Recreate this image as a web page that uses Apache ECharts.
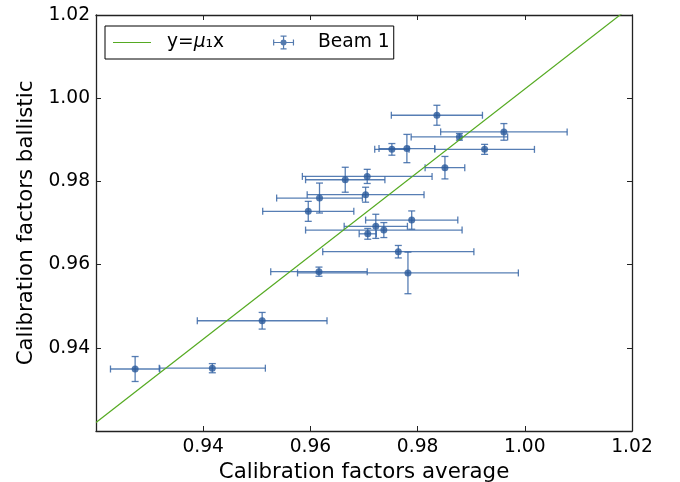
<!DOCTYPE html>
<html>
<head>
<meta charset="utf-8">
<script src="https://cdn.jsdelivr.net/npm/echarts@6/dist/echarts.min.js"></script>
<style>
html,body{margin:0;padding:0;background:#fff;}
#chart{width:680px;height:482px;}
</style>
</head>
<body>
<div id="chart"></div>
<script>
// ---- data ----
var calibAverage = [0.9836, 0.9961, 0.9878, 0.9752, 0.9780, 0.9925, 0.9851, 0.9665, 0.9706, 0.9703, 0.9617,
                    0.9596, 0.9789, 0.9722, 0.9737, 0.9707, 0.9764, 0.9782, 0.9616, 0.9510, 0.9273, 0.9417];
var calibBallistic = [0.9959, 0.9919, 0.9907, 0.9877, 0.9879, 0.9877, 0.9833, 0.9804, 0.9812, 0.9768, 0.9760,
                      0.9728, 0.9707, 0.9692, 0.9683, 0.9674, 0.9631, 0.9580, 0.9583, 0.9465, 0.9349, 0.9351];
var errAverage = [0.0085, 0.0118, 0.0090, 0.0032, 0.0052, 0.0093, 0.0037, 0.0074, 0.0121, 0.0109, 0.0080,
                  0.0085, 0.0086, 0.0059, 0.0146, 0.0016, 0.0141, 0.0206, 0.0090, 0.0121, 0.0046, 0.0099];
var errBallistic = [0.0024, 0.0020, 0.0008, 0.0014, 0.0034, 0.0012, 0.0027, 0.0030, 0.0017, 0.0018, 0.0036,
                    0.0024, 0.0022, 0.0029, 0.0018, 0.0013, 0.0015, 0.0050, 0.0011, 0.0020, 0.0030, 0.0011];
var mu1 = 1.0022;            // slope of the fitted line y = mu1 * x
var axisMin = 0.92, axisMax = 1.02, axisStep = 0.02;
var tickLabels = ['0.94', '0.96', '0.98', '1.00', '1.02'];
var lineName = 'y=\u03bc\u2081x';
var beamName = 'Beam 1';

// ---- build ----
var pts = calibAverage.map(function (x, i) { return [x, calibBallistic[i]]; });
var errData = calibAverage.map(function (x, i) { return [x, calibBallistic[i], errAverage[i], errBallistic[i]]; });
var lineData = [[axisMin, mu1 * axisMin], [axisMax, mu1 * axisMax]];

var FONT = 'DejaVu Sans';
var errColor = '#3a67a7';
var dotColor = '#2b5a9b';
var lineColor = '#55aa22';

function fmt(v) {
  var s = v.toFixed(2);
  return tickLabels.indexOf(s) >= 0 ? s : '';
}

function axisCommon(extra) {
  var o = {
    type: 'value', min: axisMin, max: axisMax, interval: axisStep,
    axisLine: { show: true, onZero: false, lineStyle: { color: '#222', width: 1.3 } },
    axisTick: { show: true, inside: true, length: 5, lineStyle: { color: '#222', width: 1 } },
    splitLine: { show: false },
    axisLabel: { show: false }
  };
  for (var k in extra) o[k] = extra[k];
  return o;
}

var lineIcon = 'path://M0,6.4 H38 V7.6 H0 Z';
var ebIcon = 'path://M0,6.9 L0.01,6.9 L0.01,6.91 Z M38,6.9 L38,6.91 L37.99,6.91 Z ' +
  'M9,6.4 H30 V7.6 H9 Z M9,4 H10.2 V10 H9 Z M28.8,4 H30 V10 H28.8 Z ' +
  'M18.9,0 H20.1 V14 H18.9 Z M16.5,0 H22.5 V1.2 H16.5 Z M16.5,12.8 H22.5 V14 H16.5 Z ' +
  'M16.5,7 A3,3 0 1,1 22.5,7 A3,3 0 1,1 16.5,7 Z';

var chart = echarts.init(document.getElementById('chart'), null, { renderer: 'canvas' });
chart.setOption({
  backgroundColor: '#fff',
  animation: false,
  textStyle: { fontFamily: FONT },
  grid: { left: 96, right: 48, top: 15, bottom: 51, containLabel: false, outerBoundsMode: 'none' },
  legend: {
    left: 105, top: 26,
    padding: [7, 4, 7, 8],
    borderColor: '#000', borderWidth: 1, borderRadius: 0,
    itemWidth: 38, itemHeight: 14, itemGap: 40,
    selectedMode: false,
    textStyle: {
      fontFamily: FONT, fontSize: 18.67, color: '#000', padding: [0, 0, 0, 11],
      rich: {
        n: { fontFamily: FONT, fontSize: 18.67, color: '#000' },
        i: { fontFamily: FONT, fontSize: 18.67, color: '#000', fontStyle: 'italic' }
      }
    },
    formatter: function (name) {
      if (name === lineName) return '{n|y=}{i|\u03bc}{n|\u2081x}';
      return name;
    },
    data: [
      { name: lineName, icon: lineIcon, itemStyle: { color: lineColor, borderWidth: 0 } },
      { name: beamName, icon: ebIcon }
    ]
  },
  xAxis: [
    axisCommon({
      position: 'bottom',
      name: 'Calibration factors average', nameLocation: 'middle', nameGap: 27,
      nameTextStyle: { fontFamily: FONT, fontSize: 21.33, color: '#000' },
      axisLabel: { show: true, margin: 7, fontFamily: FONT, fontSize: 18.67, color: '#000', formatter: fmt }
    }),
    axisCommon({ position: 'top' })
  ],
  yAxis: [
    axisCommon({
      position: 'left',
      name: 'Calibration factors ballistic', nameLocation: 'middle', nameGap: 59,
      nameTextStyle: { fontFamily: FONT, fontSize: 21.33, color: '#000' },
      axisLabel: { show: true, margin: 6, fontFamily: FONT, fontSize: 18.67, color: '#000', formatter: fmt }
    }),
    axisCommon({ position: 'right' })
  ],
  series: [
    {
      name: beamName, type: 'scatter', xAxisIndex: 0, yAxisIndex: 0,
      data: pts, symbol: 'circle', symbolSize: 7, z: 4,
      itemStyle: { color: dotColor }, emphasis: { disabled: true }
    },
    {
      name: beamName, type: 'custom', xAxisIndex: 0, yAxisIndex: 0, z: 3,
      data: errData, silent: true,
      renderItem: function (params, api) {
        var x = api.value(0), y = api.value(1), ex = api.value(2), ey = api.value(3);
        var l = api.coord([x - ex, y]), r = api.coord([x + ex, y]);
        var t = api.coord([x, y + ey]), b = api.coord([x, y - ey]);
        var c = 3.5;
        var st = { stroke: errColor, lineWidth: 1.3, opacity: 0.85 };
        function seg(x1, y1, x2, y2) {
          return { type: 'line', shape: { x1: x1, y1: y1, x2: x2, y2: y2 }, style: st };
        }
        return {
          type: 'group',
          children: [
            seg(l[0], l[1], r[0], r[1]),
            seg(l[0], l[1] - c, l[0], l[1] + c),
            seg(r[0], r[1] - c, r[0], r[1] + c),
            seg(t[0], t[1], b[0], b[1]),
            seg(t[0] - c, t[1], t[0] + c, t[1]),
            seg(b[0] - c, b[1], b[0] + c, b[1])
          ]
        };
      }
    },
    {
      name: lineName, type: 'line', xAxisIndex: 0, yAxisIndex: 0,
      data: lineData, symbol: 'none', clip: true, z: 5,
      lineStyle: { color: lineColor, width: 1.2 }, itemStyle: { color: lineColor },
      emphasis: { disabled: true }
    }
  ]
});
</script>
</body>
</html>
